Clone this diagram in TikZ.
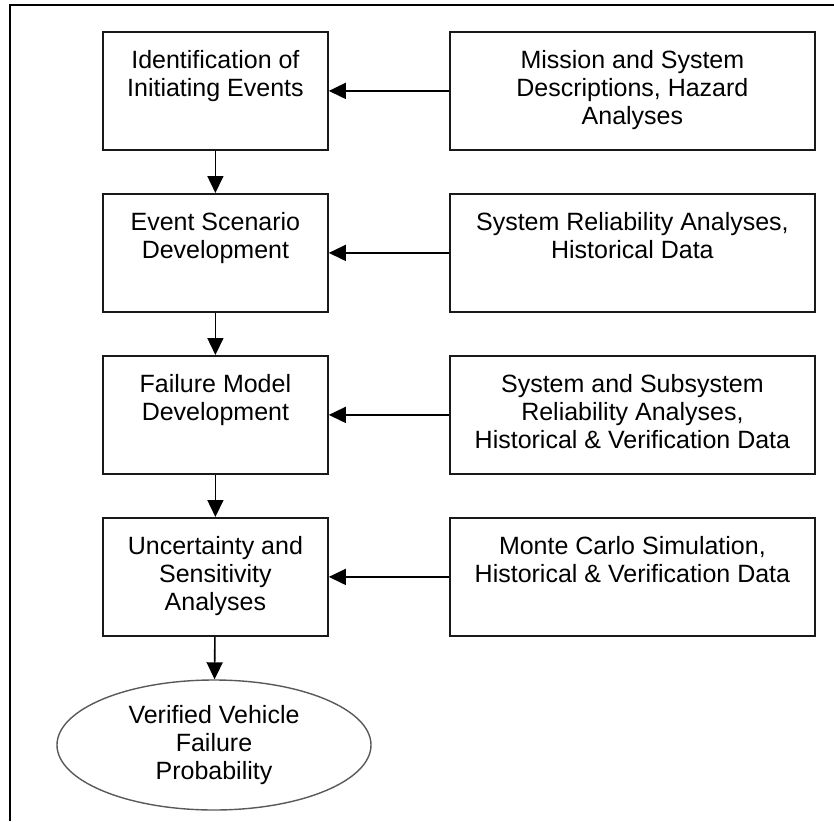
\documentclass[tikz,border=0pt]{standalone}
\usepackage{fontspec}
\setmainfont{Liberation Sans}
\usetikzlibrary{arrows.meta,shapes.geometric}

% box content: fixed-size top-aligned paragraph, first baseline 37pt below the top
\newcommand\stagetext[3]{\parbox[c][#2][t]{#1}{\centering\rule{0pt}{37pt}#3}}

\begin{document}
\begin{tikzpicture}[x=1pt,y=-1pt,
  every node/.style={font=\fontsize{25}{28}\selectfont},
  stagebox/.style={draw=black!90,line width=1.8pt,rectangle,inner sep=0pt,anchor=north west},
  flow/.style={draw=black,line width=1.6pt,-{Triangle[length=17pt,width=16pt]}},
  outcome/.style={ellipse,draw=black!65,line width=1.4pt,minimum width=314pt,
                  minimum height=130pt,inner sep=0pt,align=center}]

\useasboundingbox (0,0) rectangle (834,821);

% outer frame
\draw[line width=1.5pt] (10,821) -- (10,5) -- (834,5);

% main process chain
\node[stagebox] (ident) at (102,31)  {\stagetext{225pt}{118pt}{Identification of\\Initiating Events}};
\node[stagebox] (scen)  at (102,193) {\stagetext{225pt}{118pt}{Event Scenario\\Development}};
\node[stagebox] (fail)  at (102,355) {\stagetext{225pt}{118pt}{Failure Model\\Development}};
\node[stagebox] (unc)   at (102,517) {\stagetext{225pt}{118pt}{Uncertainty and\\Sensitivity\\Analyses}};
\node[outcome]  (prob)  at (214,745) {Verified Vehicle\\Failure\\Probability};

% inputs
\node[stagebox] (miss)  at (449,31)  {\stagetext{365pt}{118pt}{Mission and System\\Descriptions, Hazard\\Analyses}};
\node[stagebox] (rel)   at (449,193) {\stagetext{365pt}{118pt}{System Reliability Analyses,\\Historical Data}};
\node[stagebox] (sub)   at (449,355) {\stagetext{365pt}{118pt}{System and Subsystem\\Reliability Analyses,\\Historical \& Verification Data}};
\node[stagebox] (mc)    at (449,517) {\stagetext{365pt}{118pt}{Monte Carlo Simulation,\\Historical \& Verification Data}};

% connectors
\draw[flow] (ident) -- (scen);
\draw[flow] (scen)  -- (fail);
\draw[flow] (fail)  -- (unc);
\draw[flow] (unc)   -- (prob);

\draw[flow] (miss) -- (ident);
\draw[flow] (rel)  -- (scen);
\draw[flow] (sub)  -- (fail);
\draw[flow] (mc)   -- (unc);
\end{tikzpicture}
\end{document}
